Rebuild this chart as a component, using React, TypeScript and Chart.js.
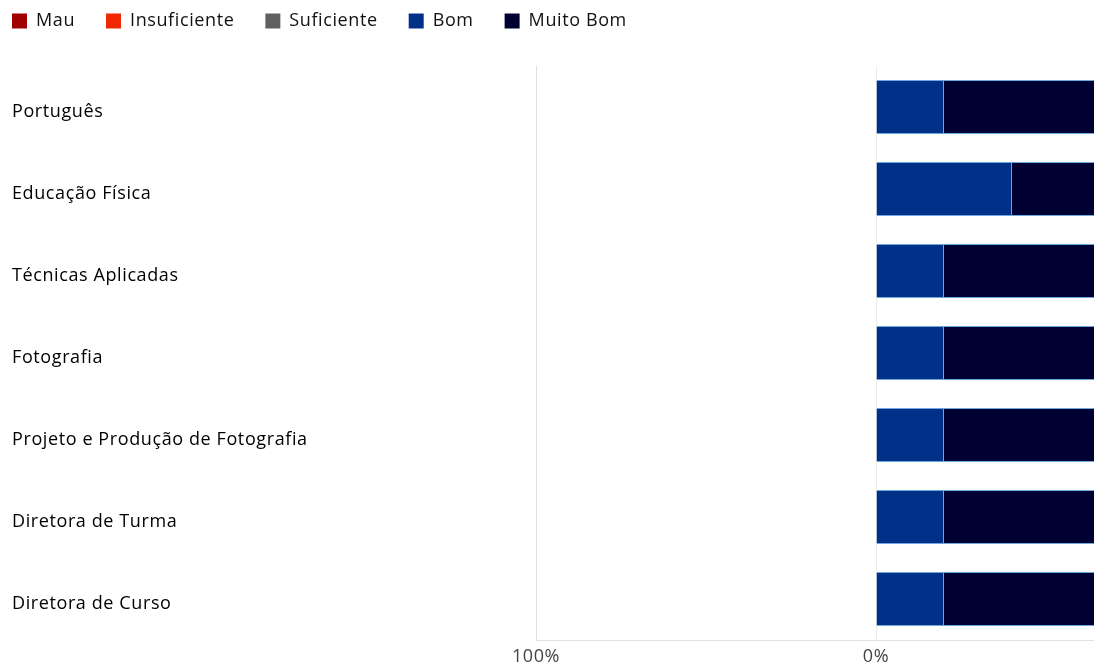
import React, { useEffect, useRef } from "react";
import { Chart, registerables } from "chart.js";

Chart.register(...registerables);

const categories = [
  "Português",
  "Educação Física",
  "Técnicas Aplicadas",
  "Fotografia",
  "Projeto e Produção de Fotografia",
  "Diretora de Turma",
  "Diretora de Curso",
];
const mau = [0, 0, 0, 0, 0, 0, 0];
const insuficiente = [0, 0, 0, 0, 0, 0, 0];
const suficiente = [0, 0, 0, 0, 0, 0, 0];
const bom = [20, 40, 20, 20, 20, 20, 20];
const muitoBom = [80, 60, 80, 80, 80, 80, 80];
const xTicks = [-100, 0];

const FONT = "'Open Sans', 'Noto Sans', sans-serif";
const FS = 18;
const LEG_PAD = 31;
const LS = "0.6px";

export default function App() {
  const ref = useRef<HTMLCanvasElement | null>(null);
  useEffect(() => {
    if (!ref.current) return;
    const spacing = {
      id: "spacing",
      beforeInit(chart: any) {
        const orig = chart.legend.fit;
        chart.legend.fit = function () {
          orig.bind(chart.legend)();
          this.height = 66;
        };
      },
      beforeUpdate(chart: any) {
        chart.ctx.letterSpacing = LS;
      },
      beforeLayout(chart: any) {
        chart.ctx.letterSpacing = LS;
      },
      afterLayout(chart: any) {
        const lg = chart.legend;
        const w = lg.right - lg.left;
        lg.left = 12 - LEG_PAD;
        lg.right = lg.left + w;
        lg.top = 21 - LEG_PAD - FS / 2;
        lg.bottom = lg.top + 66;
      },
      beforeDraw(chart: any) {
        chart.ctx.letterSpacing = LS;
      },
    };
    const border = "#6aa8e0";
    const chart = new Chart(ref.current, {
      type: "bar",
      data: {
        labels: categories,
        datasets: [
          { label: "Mau", data: mau.map((v) => -v), backgroundColor: "#a00000", borderColor: border, borderWidth: 0 },
          { label: "Insuficiente", data: insuficiente.map((v) => -v), backgroundColor: "#f02800", borderColor: border, borderWidth: 0 },
          { label: "Suficiente", data: suficiente.map((v) => -v), backgroundColor: "#606060", borderColor: border, borderWidth: 0 },
          { label: "Bom", data: bom, backgroundColor: "#003087", borderColor: border, borderWidth: 1 },
          { label: "Muito Bom", data: muitoBom, backgroundColor: "#000033", borderColor: border, borderWidth: 1 },
        ],
      },
      options: {
        indexAxis: "y",
        animation: false,
        responsive: true,
        maintainAspectRatio: false,
        layout: { padding: { left: 12, top: 0, right: 0, bottom: 0 } },
        datasets: { bar: { barPercentage: 0.66, categoryPercentage: 1 } },
        plugins: {
          tooltip: { enabled: false },
          legend: {
            position: "top",
            align: "start",
            labels: {
              boxWidth: 15,
              boxHeight: 15,
              padding: LEG_PAD,
              color: "#111",
              font: { family: FONT, size: FS },
              generateLabels(chart: any) {
                return chart.data.datasets.map((d: any, i: number) => ({
                  text: d.label,
                  fillStyle: d.backgroundColor,
                  strokeStyle: d.backgroundColor,
                  lineWidth: 0,
                  fontColor: "#111",
                  datasetIndex: i,
                  hidden: false,
                }));
              },
            },
          },
        },
        scales: {
          x: {
            stacked: true,
            min: -100,
            max: 100,
            afterBuildTicks(scale: any) {
              scale.ticks = xTicks.map((v) => ({ value: v }));
            },
            afterFit(scale: any) {
              scale.height = 29;
            },
            ticks: {
              color: "#444",
              font: { family: FONT, size: FS },
              padding: 6,
              maxRotation: 0,
              callback: (v: any) => Math.abs(Number(v)) + "%",
            },
            grid: { color: "#ececec", drawTicks: false },
            border: { color: "#e0e0e0" },
          },
          y: {
            stacked: true,
            afterFit(scale: any) {
              scale.width = 524;
            },
            ticks: {
              crossAlign: "far",
              labelOffset: 5,
              color: "#000",
              font: { family: FONT, size: FS },
            },
            grid: { display: false },
            border: { color: "#e0e0e0" },
          },
        },
      },
      plugins: [spacing],
    });
    return () => chart.destroy();
  }, []);
  return (
    <div style={{ position: "absolute", left: 0, top: 0, width: 1094, height: 669, overflow: "hidden", background: "#fff" }}>
      <div style={{ position: "relative", width: 1216, height: 669 }}>
        <canvas ref={ref} />
      </div>
    </div>
  );
}
